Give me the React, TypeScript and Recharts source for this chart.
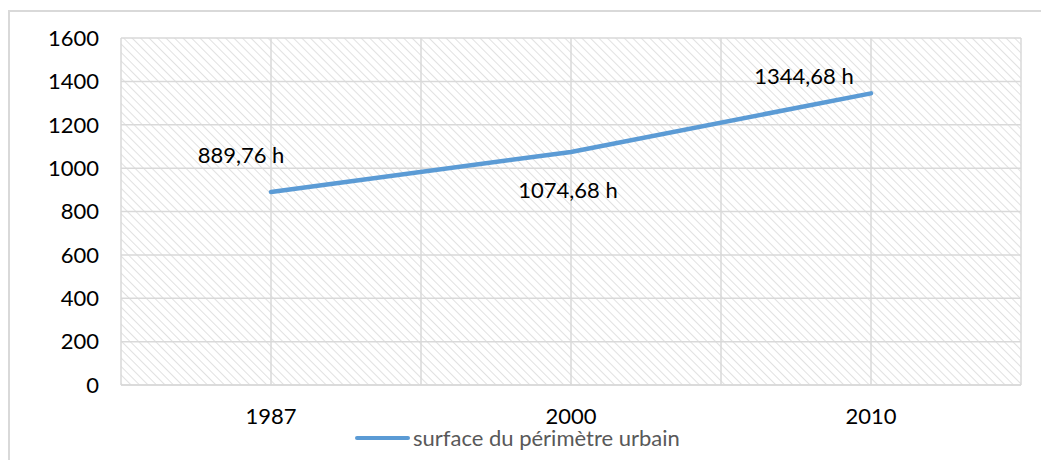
import React from "react";
import {
  CartesianGrid,
  LabelList,
  Line,
  LineChart,
  XAxis,
  YAxis,
} from "recharts";

const years = ["1987", "2000", "2010"];
const surface = [889.76, 1074.68, 1344.68];
const yTicks = [0, 200, 400, 600, 800, 1000, 1200, 1400, 1600];
const seriesName = "surface du périmètre urbain";

// label offsets from each point (px), as placed in the original
const labelOffsets = [
  { dx: -30, dy: -38 },
  { dx: -3, dy: 38 },
  { dx: -67, dy: -18 },
];

const data = years.map((year, i) => ({ year, surface: surface[i] }));

const FONT = "Lato, 'Open Sans', sans-serif";
const FS = 22;
const BLUE = "#5b9bd5";
const GRID = "#d9d9d9";

function PointLabel(props: any) {
  const { x, y, value, index } = props;
  const off = labelOffsets[index] ?? { dx: 0, dy: -20 };
  const text = Number(value).toFixed(2).replace(".", ",") + " h";
  return (
    <text
      x={x + off.dx}
      y={y + off.dy}
      textAnchor="middle"
      dominantBaseline="central"
      fontSize={FS}
      fontFamily={FONT}
      fill="#000"
    >
      {text}
    </text>
  );
}

export default function App() {
  return (
    <div style={{ position: "absolute", left: 0, top: 0, width: 1041, height: 460, background: "#fff", overflow: "hidden" }}>
      <div
        style={{
          position: "absolute",
          left: 8,
          top: 10,
          width: 1100,
          height: 500,
          borderTop: `2px solid ${GRID}`,
          borderLeft: `2px solid ${GRID}`,
        }}
      />
      <div style={{ position: "absolute", left: 0, top: 0 }}>
        <LineChart
          width={1041}
          height={460}
          data={data}
          margin={{ top: 38, right: 20, bottom: 30, left: 0 }}
        >
          <defs>
            <pattern
              id="hatch"
              patternUnits="userSpaceOnUse"
              width={6}
              height={6}
              patternTransform="rotate(-45)"
            >
              <rect width={6} height={6} fill="#fff" />
              <line x1={0} y1={0} x2={0} y2={6} stroke="#dadada" strokeWidth={1.6} />
            </pattern>
          </defs>
          <CartesianGrid
            stroke={GRID}
            strokeWidth={1.5}
            fill="url(#hatch)"
            fillOpacity={1}
            verticalCoordinatesGenerator={({ offset }: any) =>
              Array.from({ length: 7 }, (_, i) => offset.left + (offset.width * i) / 6)
            }
          />
          <XAxis
            dataKey="year"
            height={45}
            padding={{ left: 150, right: 150 }}
            axisLine={{ stroke: GRID, strokeWidth: 1.5 }}
            tickLine={false}
            tickSize={0}
            tickMargin={23}
            tick={{ fontSize: FS, fontFamily: FONT, fill: "#000" }}
          />
          <YAxis
            domain={[0, 1600]}
            ticks={yTicks}
            width={121}
            axisLine={false}
            tickLine={false}
            tickSize={0}
            tickMargin={22}
            tick={{ fontSize: FS, fontFamily: FONT, fill: "#000" }}
          />
          <Line
            type="linear"
            dataKey="surface"
            name={seriesName}
            stroke={BLUE}
            strokeWidth={4.5}
            strokeLinecap="round"
            dot={false}
            activeDot={false}
            isAnimationActive={false}
          >
            <LabelList dataKey="surface" content={PointLabel} />
          </Line>
        </LineChart>
      </div>
      <div
        style={{
          position: "absolute",
          left: 355,
          top: 426,
          display: "flex",
          alignItems: "center",
          fontFamily: FONT,
          fontSize: FS,
          color: "#595959",
          lineHeight: "24px",
        }}
      >
        <span style={{ display: "inline-block", width: 55, height: 4, borderRadius: 2, background: BLUE, marginRight: 3 }} />
        <span>{seriesName}</span>
      </div>
    </div>
  );
}
